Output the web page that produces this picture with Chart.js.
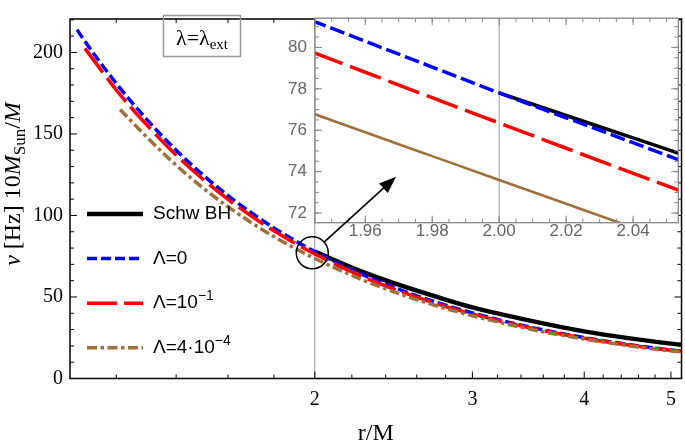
<!DOCTYPE html>
<html>
<head>
<meta charset="utf-8">
<script src="https://cdn.jsdelivr.net/npm/chart.js@4.4.1/dist/chart.umd.min.js"></script>
<style>
  html, body { margin: 0; padding: 0; background: #fff; }
  #wrap { position: relative; width: 685px; height: 444px; }
  #main { position: absolute; left: 0; top: 0; }
  #inset { position: absolute; left: 270px; top: 0; }
</style>
</head>
<body>
<div id="wrap">
  <canvas id="main" width="685" height="444"></canvas>
  <canvas id="inset" width="415" height="260"></canvas>
</div>
<script>
const SERIF = '"Liberation Serif", "Times New Roman", serif';
const SANS = '"Liberation Sans", Arial, sans-serif';

const BLUE = '#0000ff';
const RED = '#ff0000';
const BROWN = '#a0703a';
const BLACK = '#000000';

// main panel: r/M (log axis) vs frequency
const rBlue  = [1.085, 1.1, 1.2, 1.3, 1.4, 1.5, 1.6, 1.7, 1.8, 1.9, 2.0, 2.25, 2.5, 2.75, 3.0, 3.5, 4.0, 4.5, 5.0, 5.13];
const nuBlue = [214, 209, 181, 158.5, 140, 124.8, 112.2, 101.5, 92.4, 84.6, 77.8, 64.2, 54.1, 46.3, 40.2, 31.2, 25.1, 20.7, 17.5, 16.8];

const rRed  = [1.107, 1.2, 1.3, 1.4, 1.5, 1.6, 1.7, 1.8, 1.9, 2.0, 2.25, 2.5, 2.75, 3.0, 3.5, 4.0, 4.5, 5.0, 5.13];
const nuRed = [202.5, 177.0, 155.1, 137.0, 122.2, 109.9, 99.5, 90.6, 83.0, 76.35, 63.05, 53.2, 45.5, 39.55, 30.7, 24.7, 20.4, 17.3, 16.6];

const rBrown  = [1.212, 1.3, 1.4, 1.5, 1.6, 1.7, 1.8, 1.9, 2.0, 2.25, 2.5, 2.75, 3.0, 3.5, 4.0, 4.5, 5.0, 5.13];
const nuBrown = [165, 147.7, 130.8, 116.9, 105.3, 95.5, 87.1, 79.9, 73.6, 61.0, 51.5, 44.2, 38.5, 30.0, 24.2, 20.0, 16.9, 16.3];

const rBlack  = [2.0, 2.25, 2.5, 2.75, 3.0, 3.5, 4.0, 4.5, 5.0, 5.13];
const nuBlack = [77.8, 65.9, 56.9, 49.7, 43.6, 35.2, 28.9, 24.6, 21.4, 20.7];

const xMajor = [2, 3, 4, 5];
const xMinor = [1.2, 1.4, 1.6, 1.8, 2.2, 2.4, 2.6, 2.8, 3.2, 3.4, 3.6, 3.8, 4.2, 4.4, 4.6, 4.8];
const yMajor = [0, 50, 100, 150, 200];
const yMinor = [10, 20, 30, 40, 60, 70, 80, 90, 110, 120, 130, 140, 160, 170, 180, 190, 210, 220];

// inset: zoom around r/M = 2
const rIn     = [1.944, 1.96, 1.98, 2.0, 2.02, 2.04, 2.054];
const inBlue  = [81.3, 80.3, 79.05, 77.8, 76.6, 75.4, 74.55];
const inRed   = [79.78, 78.8, 77.57, 76.35, 75.13, 73.92, 73.08];
const inBrown = [76.83, 75.9, 74.75, 73.6, 72.45, 71.3, 70.5];
const rInBlack = [2.0, 2.02, 2.04, 2.054];
const inBlack  = [77.8, 76.71, 75.63, 74.87];

const inXMajor = [1.96, 1.98, 2.00, 2.02, 2.04];
const inYMajor = [72, 74, 76, 78, 80];

const pts = (rs, vs) => rs.map((r, i) => ({ x: r, y: vs[i] }));

function richWidth(ctx, parts) {
  let w = 0;
  parts.forEach(p => { ctx.font = p.font; w += ctx.measureText(p.t).width; });
  return w;
}
function richText(ctx, x, y, parts) {
  let cx = x;
  parts.forEach(p => {
    ctx.font = p.font;
    ctx.fillText(p.t, cx, y + (p.dy || 0));
    cx += ctx.measureText(p.t).width;
  });
}

// frame with inward ticks on all four sides (Mathematica style)
function frameTicks(chart, o) {
  const { ctx, chartArea: a } = chart;
  const x = chart.scales.x, y = chart.scales.y;
  ctx.save();
  ctx.lineWidth = 1;
  ctx.strokeStyle = o.tickColor;
  ctx.beginPath();
  const tx = (vals, len) => vals.forEach(v => {
    const p = x.getPixelForValue(v);
    if (p < a.left || p > a.right) return;
    ctx.moveTo(p, a.bottom); ctx.lineTo(p, a.bottom - len);
    ctx.moveTo(p, a.top); ctx.lineTo(p, a.top + len);
  });
  const ty = (vals, len) => vals.forEach(v => {
    const p = y.getPixelForValue(v);
    if (p < a.top || p > a.bottom) return;
    ctx.moveTo(a.left, p); ctx.lineTo(a.left + len, p);
    ctx.moveTo(a.right, p); ctx.lineTo(a.right - len, p);
  });
  tx(o.xMajor, o.major); tx(o.xMinor, o.minor);
  ty(o.yMajor, o.major); ty(o.yMinor, o.minor);
  ctx.stroke();
  ctx.lineWidth = o.frameWidth;
  ctx.strokeStyle = o.frameColor;
  ctx.strokeRect(a.left, a.top, a.right - a.left, a.bottom - a.top);
  ctx.restore();
}

const styles = {
  black: { color: BLACK, width: 4.5, dash: [] },
  blue:  { color: BLUE,  width: 3.5, dash: [10, 4] },
  red:   { color: RED,   width: 3.5, dash: [30, 7] },
  brown: { color: BROWN, width: 3.5, dash: [10, 3.5, 3.5, 3.5] }
};

const mainPlugin = {
  id: 'mainDecor',
  beforeDatasetsDraw(chart) {
    const { ctx, chartArea: a } = chart;
    const px = chart.scales.x.getPixelForValue(2);
    ctx.save();
    ctx.strokeStyle = '#999';
    ctx.lineWidth = 1;
    ctx.beginPath();
    ctx.moveTo(px, a.top); ctx.lineTo(px, a.bottom);
    ctx.stroke();
    ctx.restore();
  },
  afterDraw(chart) {
    const { ctx } = chart;
    const sx = chart.scales.x, sy = chart.scales.y;
    frameTicks(chart, {
      xMajor, xMinor, yMajor, yMinor, major: 7, minor: 4,
      tickColor: '#000', frameColor: '#000', frameWidth: 1.5
    });

    // legend
    const legend = [
      { s: styles.black, parts: [{ t: 'Schw BH' }] },
      { s: styles.blue,  parts: [{ t: 'Λ=0' }] },
      { s: styles.red,   parts: [{ t: 'Λ=10' }, { t: '−1', sup: true }] },
      { s: styles.brown, parts: [{ t: 'Λ=4·10' }, { t: '−4', sup: true }] }
    ];
    ctx.save();
    legend.forEach((e, i) => {
      const y = 214 + i * 44.6;
      ctx.strokeStyle = e.s.color;
      ctx.lineWidth = e.s.width;
      ctx.setLineDash(e.s.dash);
      ctx.beginPath();
      ctx.moveTo(87, y); ctx.lineTo(143, y);
      ctx.stroke();
      ctx.setLineDash([]);
      ctx.fillStyle = '#000';
      ctx.textBaseline = 'middle';
      richText(ctx, 153, y, e.parts.map(p => p.sup
        ? { t: p.t, font: '14px ' + SANS, dy: -7 }
        : { t: p.t, font: '19px ' + SANS }));
    });
    ctx.restore();

    // lambda box
    ctx.save();
    ctx.strokeStyle = '#999';
    ctx.lineWidth = 1.5;
    ctx.strokeRect(163.5, 15.5, 77, 41);
    ctx.fillStyle = '#000';
    ctx.textBaseline = 'alphabetic';
    const lam = [
      { t: 'λ=λ', font: '22px ' + SERIF },
      { t: 'ext', font: '15px ' + SERIF, dy: 4 }
    ];
    const lw = richWidth(ctx, lam);
    richText(ctx, 202 - lw / 2, 44.5, lam);
    ctx.restore();

    // circle around r/M = 2
    ctx.save();
    ctx.strokeStyle = '#000';
    ctx.lineWidth = 1.5;
    ctx.beginPath();
    ctx.arc(sx.getPixelForValue(1.987), sy.getPixelForValue(77.1), 16, 0, 2 * Math.PI);
    ctx.stroke();
    ctx.restore();

    // axis titles
    ctx.save();
    ctx.fillStyle = '#000';
    ctx.textBaseline = 'alphabetic';
    const xt = [
      { t: 'r/M', font: '24px ' + SERIF }
    ];
    const xw = richWidth(ctx, xt);
    const a = chart.chartArea;
    richText(ctx, (a.left + a.right) / 2 - xw / 2, 440, xt);

    const yt = [
      { t: 'ν', font: 'italic 24px ' + SERIF },
      { t: ' [Hz] 10', font: '24px ' + SERIF },
      { t: 'M', font: 'italic 24px ' + SERIF },
      { t: 'Sun', font: '17px ' + SERIF, dy: 5 },
      { t: '/', font: '24px ' + SERIF },
      { t: 'M', font: 'italic 24px ' + SERIF }
    ];
    const yw = richWidth(ctx, yt);
    ctx.translate(20, 184);
    ctx.rotate(-Math.PI / 2);
    richText(ctx, -yw / 2, 0, yt);
    ctx.restore();
  }
};

const mainChart = new Chart(document.getElementById('main'), {
  type: 'line',
  data: {
    datasets: [
      { label: 'Schw BH', data: pts(rBlack, nuBlack), borderColor: BLACK, borderWidth: styles.black.width, order: 3 },
      { label: 'Λ=0', data: pts(rBlue, nuBlue), borderColor: BLUE, borderWidth: styles.blue.width, borderDash: styles.blue.dash, order: 2 },
      { label: 'Λ=10^-1', data: pts(rRed, nuRed), borderColor: RED, borderWidth: styles.red.width, borderDash: styles.red.dash, order: 1 },
      { label: 'Λ=4·10^-4', data: pts(rBrown, nuBrown), borderColor: BROWN, borderWidth: styles.brown.width, borderDash: styles.brown.dash, order: 0 }
    ]
  },
  options: {
    responsive: false,
    animation: false,
    devicePixelRatio: 1,
    layout: { padding: { top: 1, right: 3, left: 0, bottom: 0 } },
    elements: { point: { radius: 0 }, line: { cubicInterpolationMode: 'monotone', fill: false } },
    plugins: { legend: { display: false }, tooltip: { enabled: false } },
    scales: {
      x: {
        type: 'logarithmic', min: 1.0654, max: 5.138,
        grid: { display: false, drawTicks: false }, border: { display: false },
        afterBuildTicks: s => { s.ticks = xMajor.map(v => ({ value: v })); },
        afterFit: s => { s.height = 65.5; },
        ticks: { callback: v => String(v), font: { family: SERIF, size: 20 }, color: '#000', padding: 9, autoSkip: false, maxRotation: 0 }
      },
      y: {
        min: 0, max: 220.5,
        grid: { display: false, drawTicks: false }, border: { display: false },
        afterBuildTicks: s => { s.ticks = yMajor.map(v => ({ value: v })); },
        afterFit: s => { s.width = 70; },
        ticks: { callback: v => String(v), font: { family: SERIF, size: 20 }, color: '#000', padding: 7 }
      }
    }
  },
  plugins: [mainPlugin]
});

const INSET_LEFT = 270, INSET_TOP = 0;

const insetPlugin = {
  id: 'insetDecor',
  beforeDraw(chart) {
    const { ctx, chartArea: a } = chart;
    ctx.save();
    ctx.fillStyle = '#fff';
    ctx.fillRect(a.left, a.top, a.right - a.left, a.bottom - a.top);
    ctx.restore();
  },
  beforeDatasetsDraw(chart) {
    const { ctx, chartArea: a } = chart;
    const px = chart.scales.x.getPixelForValue(2.0);
    ctx.save();
    ctx.strokeStyle = '#999';
    ctx.lineWidth = 1;
    ctx.beginPath();
    ctx.moveTo(px, a.top); ctx.lineTo(px, a.bottom);
    ctx.stroke();
    ctx.restore();
  },
  afterDraw(chart) {
    const { ctx } = chart;
    const xMin = [], yMin = [];
    for (let v = 1.945; v < 2.055; v += 0.005) xMin.push(v);
    for (let v = 71.5; v < 81.5; v += 0.5) yMin.push(v);
    frameTicks(chart, {
      xMajor: inXMajor, xMinor: xMin, yMajor: inYMajor, yMinor: yMin, major: 7, minor: 4,
      tickColor: '#888', frameColor: '#888', frameWidth: 1.3
    });

    // arrow from the circle in the main panel to the inset
    const cx = mainChart.scales.x.getPixelForValue(1.987) - INSET_LEFT;
    const cy = mainChart.scales.y.getPixelForValue(77.1) - INSET_TOP;
    const tx = chart.scales.x.getPixelForValue(1.9692);
    const ty = chart.scales.y.getPixelForValue(73.75);
    const dx = tx - cx, dy = ty - cy, len = Math.hypot(dx, dy);
    const ux = dx / len, uy = dy / len;
    const sx0 = cx + ux * 16, sy0 = cy + uy * 16;
    const head = 17, half = 6.5;
    const bx = tx - ux * head, by = ty - uy * head;
    ctx.save();
    ctx.strokeStyle = '#000';
    ctx.fillStyle = '#000';
    ctx.lineWidth = 1.6;
    ctx.beginPath();
    ctx.moveTo(sx0, sy0); ctx.lineTo(bx + ux * 2, by + uy * 2);
    ctx.stroke();
    ctx.beginPath();
    ctx.moveTo(tx, ty);
    ctx.lineTo(bx - uy * half, by + ux * half);
    ctx.lineTo(bx + uy * half, by - ux * half);
    ctx.closePath();
    ctx.fill();
    ctx.restore();
  }
};

new Chart(document.getElementById('inset'), {
  type: 'line',
  data: {
    datasets: [
      { data: pts(rInBlack, inBlack), borderColor: BLACK, borderWidth: 3.5, order: 3 },
      { data: pts(rIn, inBlue), borderColor: BLUE, borderWidth: 3.5, borderDash: [15, 5], order: 2 },
      { data: pts(rIn, inRed), borderColor: RED, borderWidth: 3.5, borderDash: [33, 8], order: 1 },
      { data: pts(rIn, inBrown), borderColor: BROWN, borderWidth: 2.6, order: 0 }
    ]
  },
  options: {
    responsive: false,
    animation: false,
    devicePixelRatio: 1,
    layout: { padding: { top: 1.7, right: 6.7, left: 0, bottom: 0 } },
    elements: { point: { radius: 0 }, line: { cubicInterpolationMode: 'monotone', fill: false } },
    plugins: { legend: { display: false }, tooltip: { enabled: false } },
    scales: {
      x: {
        type: 'linear', min: 1.945, max: 2.0535,
        grid: { display: false, drawTicks: false }, border: { display: false },
        afterBuildTicks: s => { s.ticks = inXMajor.map(v => ({ value: v })); },
        afterFit: s => { s.height = 37.3; },
        ticks: { callback: v => v.toFixed(2), font: { family: SANS, size: 17 }, color: '#666', padding: -2, autoSkip: false, maxRotation: 0 }
      },
      y: {
        min: 71.535, max: 81.41,
        grid: { display: false, drawTicks: false }, border: { display: false },
        afterBuildTicks: s => { s.ticks = inYMajor.map(v => ({ value: v })); },
        afterFit: s => { s.width = 45; },
        ticks: { callback: v => String(v), font: { family: SANS, size: 17 }, color: '#666', padding: 8 }
      }
    }
  },
  plugins: [insetPlugin]
});
</script>
</body>
</html>
